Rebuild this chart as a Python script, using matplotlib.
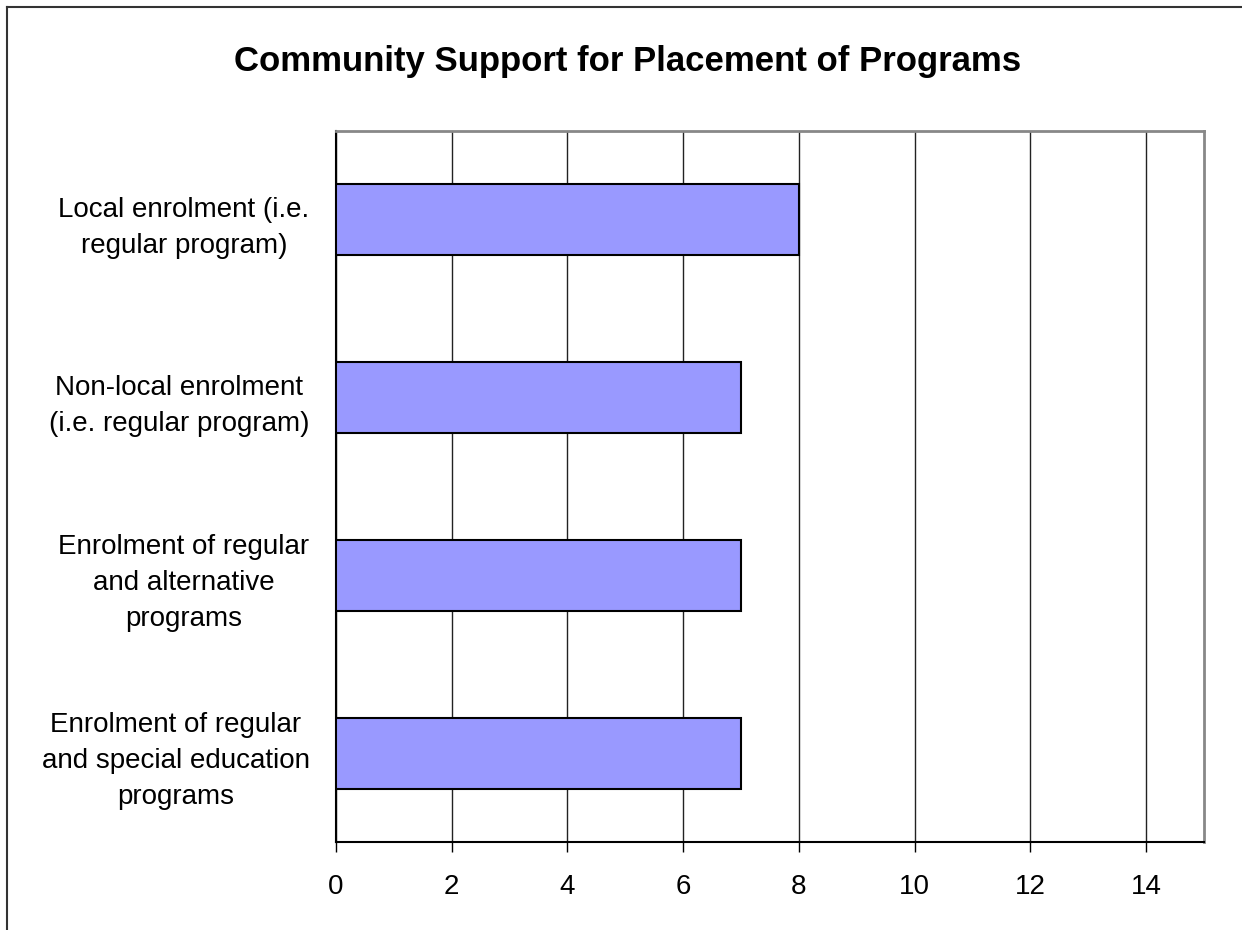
import matplotlib.pyplot as plt
from matplotlib.lines import Line2D

FONT = 'Liberation Sans'
BAR = '#9999FF'

categories = ['Local enrolment (i.e.\nregular program)',
              'Non-local enrolment\n(i.e. regular program)',
              'Enrolment of regular\nand alternative\nprograms',
              'Enrolment of regular\nand special education\nprograms']
values = [8, 7, 7, 7]
xticks = [0, 2, 4, 6, 8, 10, 12, 14]

plt.rcParams['font.family'] = FONT

fig = plt.figure(figsize=(12.42, 9.30), dpi=100, facecolor='white')
ax = fig.add_axes([336/1242, 1 - 842/930, (1204 - 336)/1242, (842 - 131)/930])

ypos = list(range(len(categories)))
ax.barh(ypos, values, height=0.4, color=BAR, edgecolor='black', lw=1.5, zorder=3)
ax.set_ylim(3.5, -0.5)
ax.set_xlim(0, 15)

ax.set_xticks(xticks)
ax.set_xticklabels([str(t) for t in xticks], fontsize=20)
ax.set_yticks(ypos)
ax.set_yticklabels(categories, fontsize=20, ha='right', multialignment='center',
                   linespacing=1.5)
ax.tick_params(axis='y', length=0, pad=19)
ax.tick_params(axis='x', length=7, width=1, color='black', pad=16)

ax.grid(axis='x', color='#222222', lw=1, zorder=1)
for sp in ['top', 'right']:
    ax.spines[sp].set_color('#888888')
    ax.spines[sp].set_linewidth(2)
for sp in ['bottom', 'left']:
    ax.spines[sp].set_color('black')
    ax.spines[sp].set_linewidth(1.5)

fig.text(628/1242, 1 - 61/930, 'Community Support for Placement of Programs',
         ha='center', va='center', fontsize=25, fontweight='bold')

# outer chart border (top and left edges only show)
x0, y0 = 7/1242, 1 - 7/930
fig.add_artist(Line2D([x0, 1.0], [y0, y0], transform=fig.transFigure,
                      color='#333333', lw=1.5))
fig.add_artist(Line2D([x0, x0], [y0, 0.0], transform=fig.transFigure,
                      color='#333333', lw=1.5))

plt.savefig('out.png', dpi=100, facecolor='white')
plt.close()
